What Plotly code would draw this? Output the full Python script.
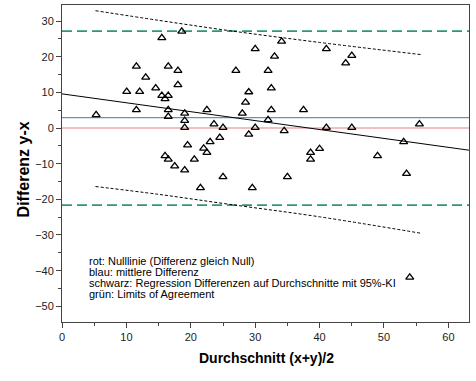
import plotly.graph_objects as go

# Data
mean_x = [5.3, 15.5, 18.6, 11.55, 16.5, 18.0, 13.0, 18.0, 10.05, 12.06, 14.55, 15.5, 16.5,
          16.0, 11.55, 16.5, 16.5, 19.05, 19.05, 19.05, 22.5, 23.6, 25.0, 30.0, 29.0, 28.0,
          28.5, 29.0, 27.0, 30.0, 32.0, 19.5, 23.0, 24.5, 22.0, 22.5, 16.0, 16.5, 20.55,
          17.5, 19.05, 25.0, 21.5, 29.55, 34.1, 33.0, 32.5, 32.5, 32.0, 37.5, 34.5, 41.05,
          44.05, 45.0, 41.05, 45.0, 55.5, 53.05, 38.6, 40.0, 38.6, 49.0, 35.0, 53.5, 54.0]
diff_y = [3.7, 25.3, 27.1, 17.3, 17.3, 16.1, 14.2, 12.1, 10.2, 10.2, 11.2, 9.1, 9.1,
          8.2, 5.1, 5.1, 3.2, 4.1, 2.1, 0.1, 5.1, 1.1, 0.1, 0.1, -1.8, 4.1,
          7.2, 10.1, 16.1, 22.2, 16.1, -4.8, -3.9, -2.7, -5.7, -6.9, -7.8, -8.8, -8.8,
          -10.7, -11.8, -13.7, -16.8, -16.8, 24.3, 20.1, 11.2, 5.1, 2.3, 5.1, -0.8, 22.2,
          18.2, 20.3, 0.1, 0.1, 1.1, -3.9, -6.9, -5.8, -8.8, -7.8, -13.7, -12.8, -41.9]

mean_difference = 2.9
loa_upper = 27.2
loa_lower = -21.6
reg_intercept = 9.58
reg_slope = -0.25

ci_x = [5.2, 15.0, 26.0, 40.0, 55.7]
ci_upper = [32.9, 30.2, 27.3, 24.0, 20.6]
ci_lower = [-16.4, -18.6, -21.4, -24.9, -29.5]

x_range = [0, 63.2]
y_range = [-54.4, 34.5]

legend_lines = [
    "rot: Nulllinie (Differenz gleich Null)",
    "blau: mittlere Differenz",
    "schwarz: Regression Differenzen auf Durchschnitte mit 95%-KI",
    "grün: Limits of Agreement",
]
legend_y = [-37.2, -40.3, -43.5, -46.6]

x_title = "Durchschnitt (x+y)/2"
y_title = "Differenz y-x"

FONT = "Liberation Sans, Arial, sans-serif"

fig = go.Figure()

def hline(yv, color, width, dash="solid"):
    fig.add_trace(go.Scatter(x=x_range, y=[yv, yv], mode="lines",
                             line=dict(color=color, width=width, dash=dash),
                             hoverinfo="skip", showlegend=False))

hline(0, "#e0808a", 1.2)
hline(mean_difference, "#5b97b8", 1.2)
hline(loa_upper, "#2e9a6c", 1.8, "10px,5px")
hline(loa_lower, "#2e9a6c", 1.8, "10px,5px")

fig.add_trace(go.Scatter(x=x_range,
                         y=[reg_intercept + reg_slope * v for v in x_range],
                         mode="lines", line=dict(color="black", width=1),
                         hoverinfo="skip", showlegend=False))
fig.add_trace(go.Scatter(x=ci_x, y=ci_upper, mode="lines",
                         line=dict(color="black", width=1, dash="3px,2px", shape="spline"),
                         hoverinfo="skip", showlegend=False))
fig.add_trace(go.Scatter(x=ci_x, y=ci_lower, mode="lines",
                         line=dict(color="black", width=1, dash="3px,2px", shape="spline"),
                         hoverinfo="skip", showlegend=False))

fig.add_trace(go.Scatter(x=mean_x, y=diff_y, mode="markers",
                         marker=dict(symbol="triangle-up-open", size=7, color="black",
                                     line=dict(width=1.3, color="black")),
                         showlegend=False))

for txt, yv in zip(legend_lines, legend_y):
    fig.add_annotation(x=3.9, y=yv, xref="x", yref="y", text=txt, showarrow=False,
                       xanchor="left", yanchor="middle",
                       font=dict(family=FONT, size=11, color="black"))

axis_common = dict(showline=True, linecolor="#444", linewidth=1, mirror=True,
                   ticks="outside", ticklen=5, tickcolor="#444", tickwidth=1,
                   showgrid=False, zeroline=False,
                   tickfont=dict(family=FONT, size=11, color="#222"))

fig.update_xaxes(range=x_range, tick0=0, dtick=10,
                 minor=dict(ticks="outside", ticklen=3, dtick=5, tickcolor="#444"),
                 **axis_common)
fig.update_yaxes(range=y_range, tick0=0, dtick=10,
                 minor=dict(ticks="outside", ticklen=3, dtick=5, tickcolor="#444"),
                 **axis_common)

# title positions in pixels (from top-left), converted below to paper coordinates
L, R, T, B = 62, 7, 5, 59
W, H = 476, 381
pw, ph = W - L - R, H - T - B

def px_to_paper(px, py):
    return (px - L) / pw, ((H - py) - B) / ph

xt = px_to_paper(266, 357.7)
yt = px_to_paper(23.4, 169)
fig.add_annotation(x=xt[0], y=xt[1], xref="paper", yref="paper", text="<b>" + x_title + "</b>",
                   xanchor="center", yanchor="middle",
                   showarrow=False, font=dict(family=FONT, size=14, color="black"))
fig.add_annotation(x=yt[0], y=yt[1], xref="paper", yref="paper", text="<b>" + y_title + "</b>",
                   xanchor="center", yanchor="middle",
                   textangle=-90, showarrow=False, font=dict(family=FONT, size=16, color="black"))

fig.update_layout(width=W, height=H, margin=dict(l=L, r=R, t=T, b=B),
                  plot_bgcolor="white", paper_bgcolor="white", showlegend=False)

fig.write_html("out.html", config={"displayModeBar": False},
               post_script="document.body.style.margin='0px';document.body.style.padding='0px';")
